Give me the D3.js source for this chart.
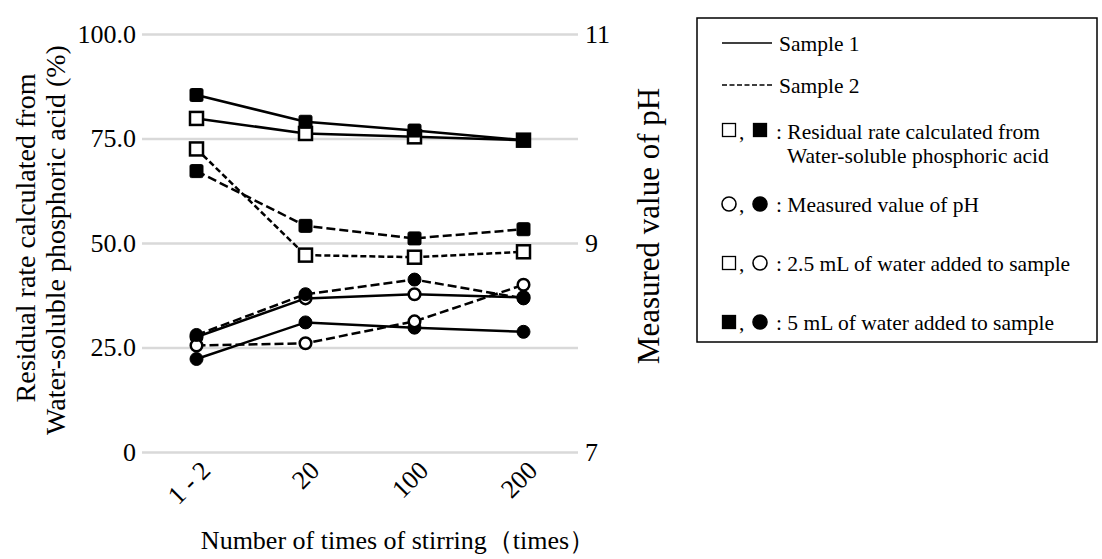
<!DOCTYPE html>
<html>
<head>
<meta charset="utf-8">
<script src="https://cdn.jsdelivr.net/npm/d3@7"></script>
<style>
  body { margin: 0; background: #fff; }
  text { font-family: "Liberation Serif", "Times New Roman", serif; fill: #000; }
</style>
</head>
<body>
<div class="chart"></div>
<script>
const categories = ["1 - 2", "20", "100", "200"];
const leftTicks = [0, 25, 50, 75, 100];
const leftTickLabels = ["0", "25.0", "50.0", "75.0", "100.0"];
const rightTicks = [7, 8, 9, 10, 11];
const rightTickLabels = ["7", "", "9", "", "11"];

// residual rate (%), left axis
const resSample1Water25 = [79.8, 76.2, 75.4, 74.6];
const resSample1Water5 = [85.4, 79.0, 76.9, 74.6];
const resSample2Water25 = [72.5, 47.1, 46.6, 47.9];
const resSample2Water5 = [67.2, 54.1, 51.1, 53.3];

// pH, right axis
const phSample1Water25 = [8.10, 8.47, 8.51, 8.48];
const phSample1Water5 = [7.89, 8.24, 8.19, 8.15];
const phSample2Water25 = [8.02, 8.04, 8.25, 8.60];
const phSample2Water5 = [8.12, 8.51, 8.65, 8.47];

const width = 1102, height = 559;
const plotLeft = 142, plotRight = 578, plotTop = 34, plotBottom = 452;

var svg = d3.select(".chart").append("svg").attr("width", width).attr("height", height);

var x = d3.scalePoint().domain(categories).range([plotLeft, plotRight]).padding(0.5);
var yL = d3.scaleLinear().domain([0, 100]).range([plotBottom, plotTop]);
var yR = d3.scaleLinear().domain([7, 11]).range([plotBottom, plotTop]);

// gridlines
var grid = svg.append("g")
    .attr("transform", "translate(" + plotLeft + ",0)")
    .call(d3.axisLeft(yL).tickValues(leftTicks).tickSize(-(plotRight - plotLeft)).tickFormat(""));
grid.select(".domain").remove();
grid.selectAll("line").attr("stroke", "#d9d9d9").attr("stroke-width", 2.5);

// left tick labels
var leftAxis = svg.append("g")
    .attr("transform", "translate(" + (plotLeft - 3) + ",0)")
    .call(d3.axisLeft(yL).tickValues(leftTicks).tickSize(0)
        .tickFormat(function (d, i) { return leftTickLabels[i]; }));
leftAxis.select(".domain").remove();
leftAxis.selectAll("text").style("font-size", "26px").style("font-family", "Liberation Serif");

// right tick labels
var rightAxis = svg.append("g")
    .attr("transform", "translate(" + (plotRight + 4) + ",0)")
    .call(d3.axisRight(yR).tickValues(rightTicks).tickSize(0)
        .tickFormat(function (d, i) { return rightTickLabels[i]; }));
rightAxis.select(".domain").remove();
rightAxis.selectAll("text").style("font-size", "26px").style("font-family", "Liberation Serif");

// rotated category labels
var xAxis = svg.append("g")
    .attr("transform", "translate(0," + plotBottom + ")")
    .call(d3.axisBottom(x).tickSize(0).tickFormat(function (d) { return d; }));
xAxis.select(".domain").remove();
xAxis.selectAll("text")
    .style("font-size", "26px")
    .style("font-family", "Liberation Serif")
    .style("text-anchor", "end")
    .attr("y", 0).attr("dy", 0)
    .attr("transform", "translate(15,20) rotate(-45)");

// axis titles
svg.append("text")
    .attr("transform", "translate(35,238) rotate(-90)")
    .attr("text-anchor", "middle")
    .style("font-size", "28px")
    .text("Residual rate calculated from");
svg.append("text")
    .attr("transform", "translate(65,240) rotate(-90)")
    .attr("text-anchor", "middle")
    .style("font-size", "28px")
    .text("Water-soluble phosphoric acid (%)");
svg.append("text")
    .attr("transform", "translate(659,226) rotate(-90)")
    .attr("text-anchor", "middle")
    .style("font-size", "31px")
    .text("Measured value of pH");
svg.append("text")
    .attr("x", 398).attr("y", 549)
    .attr("text-anchor", "middle")
    .style("font-size", "26px")
    .text("Number of times of stirring（times）");

// series
var seriesList = [
    { values: resSample1Water25, y: yL, dash: null, marker: "openSquare" },
    { values: resSample1Water5, y: yL, dash: null, marker: "square" },
    { values: resSample2Water25, y: yL, dash: "6,3", marker: "openSquare" },
    { values: resSample2Water5, y: yL, dash: "9,4", marker: "square" },
    { values: phSample1Water25, y: yR, dash: null, marker: "openCircle" },
    { values: phSample1Water5, y: yR, dash: null, marker: "circle" },
    { values: phSample2Water25, y: yR, dash: "9,4", marker: "openCircle" },
    { values: phSample2Water5, y: yR, dash: "9,4", marker: "circle" }
];

function drawMarker(g, type, cx, cy, s) {
    if (type == "square" || type == "openSquare") {
        g.append("rect")
            .attr("x", cx - s / 2).attr("y", cy - s / 2)
            .attr("width", s).attr("height", s)
            .attr("rx", type == "square" ? 1.5 : 0)
            .attr("fill", type == "square" ? "#000" : "#fff")
            .attr("stroke", "#000")
            .attr("stroke-width", type == "square" ? 1 : 2.5);
    } else {
        g.append("circle")
            .attr("cx", cx).attr("cy", cy)
            .attr("r", type == "circle" ? s / 2 : s / 2 - 0.7)
            .attr("fill", type == "circle" ? "#000" : "#fff")
            .attr("stroke", "#000")
            .attr("stroke-width", type == "circle" ? 1 : 2.5);
    }
}

seriesList.forEach(function (s) {
    var g = svg.append("g");
    var line = d3.line()
        .x(function (d, i) { return x(categories[i]); })
        .y(function (d) { return s.y(d); });
    g.append("path")
        .datum(s.values)
        .attr("d", line)
        .attr("fill", "none")
        .attr("stroke", "#000")
        .attr("stroke-width", 2.5)
        .attr("stroke-dasharray", s.dash);
    s.values.forEach(function (v, i) {
        drawMarker(g, s.marker, x(categories[i]), s.y(v), 13);
    });
});

// legend
var legend = svg.append("g");
legend.append("rect")
    .attr("x", 697).attr("y", 18)
    .attr("width", 400).attr("height", 324)
    .attr("fill", "none").attr("stroke", "#000").attr("stroke-width", 1.5);

legend.append("line").attr("x1", 722).attr("x2", 772).attr("y1", 43).attr("y2", 43)
    .attr("stroke", "#000").attr("stroke-width", 1.5);
legend.append("text").attr("x", 779).attr("y", 51).style("font-size", "21.5px").text("Sample 1");
legend.append("line").attr("x1", 722).attr("x2", 772).attr("y1", 85).attr("y2", 85)
    .attr("stroke", "#000").attr("stroke-width", 1.5).attr("stroke-dasharray", "5,2.5");
legend.append("text").attr("x", 779).attr("y", 93).style("font-size", "21.5px").text("Sample 2");

function legendSymbol(type, cx, cy) {
    var s = 13;
    if (type == "openSquare" || type == "square") {
        legend.append("rect").attr("x", cx - s / 2).attr("y", cy - s / 2)
            .attr("width", s).attr("height", s)
            .attr("fill", type == "square" ? "#000" : "#fff")
            .attr("stroke", "#000").attr("stroke-width", 1.3);
    } else {
        legend.append("circle").attr("cx", cx).attr("cy", cy).attr("r", 7)
            .attr("fill", type == "circle" ? "#000" : "#fff")
            .attr("stroke", "#000").attr("stroke-width", 1.6);
    }
}

var legendRows = [
    { a: "openSquare", b: "square", cy: 130, ty: 139, text: ": Residual rate calculated from" },
    { a: "openCircle", b: "circle", cy: 204, ty: 212, text: ": Measured value of pH" },
    { a: "openSquare", b: "openCircle", cy: 263, ty: 271, text: ": 2.5 mL of water added to sample" },
    { a: "square", b: "circle", cy: 322, ty: 330, text: ": 5 mL of water added to sample" }
];
legendRows.forEach(function (r) {
    legendSymbol(r.a, 729, r.cy);
    legend.append("text").attr("x", 739).attr("y", r.ty).style("font-size", "21.5px").text(",");
    legendSymbol(r.b, 760, r.cy);
    legend.append("text").attr("x", 776).attr("y", r.ty).style("font-size", "21.5px").text(r.text);
});
legend.append("text").attr("x", 787).attr("y", 163).style("font-size", "21.5px")
    .text("Water-soluble phosphoric acid");
</script>
</body>
</html>
